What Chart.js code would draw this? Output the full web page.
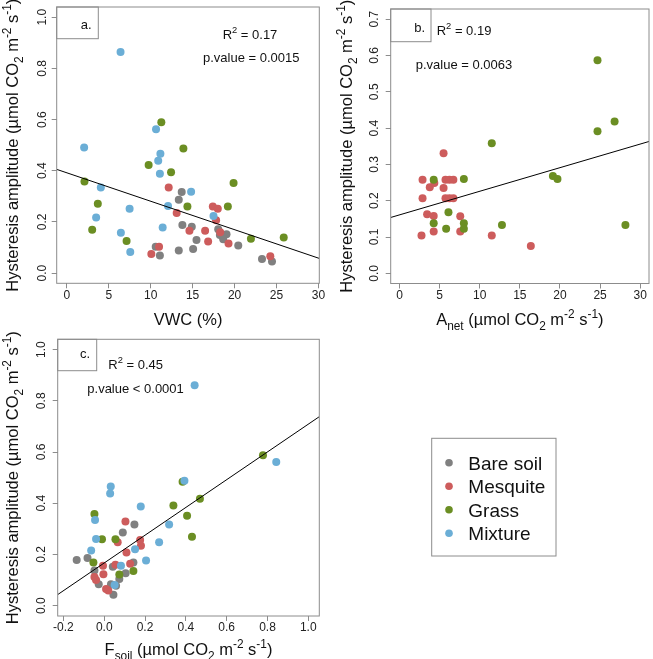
<!DOCTYPE html>
<html><head><meta charset="utf-8">
<script src="https://cdn.jsdelivr.net/npm/chart.js@4"></script>
<style>
html,body{margin:0;padding:0;background:#fff;}
body{width:653px;height:659px;position:relative;overflow:hidden;}
canvas{position:absolute;}
#ca{left:0;top:0;}
#cb{left:326px;top:0;}
#cc{left:0;top:330px;}
</style></head><body>
<canvas id="ca" width="330" height="330"></canvas>
<canvas id="cb" width="327" height="330"></canvas>
<canvas id="cc" width="653" height="329"></canvas>
<script>
// ---------- data ----------
const groups = ['Bare soil','Mesquite','Grass','Mixture'];
const groupColors = ['#808080','#cd5c5c','#6b8e23','#6baed6'];

// Panel a: VWC (%) vs hysteresis amplitude
const vwcBare  = [13.7,13.35,13.78,14.9,15.46,15.06,13.35,10.6,11.1,18.05,18.25,18.65,19.04,20.44,23.27,24.46];
const ampBareA = [0.317,0.287,0.188,0.181,0.129,0.094,0.088,0.103,0.069,0.171,0.149,0.132,0.152,0.108,0.055,0.045];
const vwcMesq  = [12.15,13.1,14.62,17.41,18.0,17.8,16.49,16.85,18.29,19.28,11.0,10.08,24.26];
const ampMesqA = [0.334,0.235,0.165,0.260,0.251,0.206,0.165,0.123,0.160,0.116,0.103,0.075,0.066];
const vwcGrass = [11.27,13.9,9.76,12.43,2.11,3.7,3.03,7.13,14.38,19.88,19.2,21.95,25.86];
const ampGrassA= [0.590,0.487,0.422,0.394,0.358,0.271,0.169,0.125,0.260,0.352,0.260,0.134,0.139];
const vwcMix   = [6.41,2.07,10.64,10.9,11.16,11.1,4.06,3.5,7.49,6.45,7.57,11.43,12.07,14.82,17.49];
const ampMixA  = [0.864,0.491,0.562,0.439,0.466,0.388,0.334,0.217,0.251,0.158,0.082,0.178,0.262,0.318,0.223];

// Panel b: Anet vs hysteresis amplitude
const anetMesq = [5.49,2.87,2.87,2.74,3.77,4.34,5.49,5.73,6.22,6.71,5.73,6.22,6.71,3.44,4.26,4.26,7.57,7.57,11.5,16.37];
const ampMesqB = [0.331,0.258,0.207,0.104,0.237,0.249,0.235,0.258,0.258,0.258,0.207,0.207,0.207,0.163,0.158,0.115,0.157,0.115,0.104,0.075];
const anetGrass= [24.68,26.81,24.68,11.5,19.12,19.69,28.16,12.77,4.26,8.02,6.1,4.26,5.81,8.02,8.02];
const ampGrassB= [0.587,0.418,0.391,0.358,0.268,0.260,0.133,0.133,0.258,0.260,0.168,0.138,0.123,0.138,0.123];

// Panel c: Fsoil vs hysteresis amplitude
const fsoilBare  = [-0.135,-0.082,-0.048,-0.027,0.042,0.091,0.148,0.143,0.105,0.074,0.033,0.045,0.058];
const ampBareC   = [0.179,0.186,0.138,0.084,0.152,0.286,0.317,0.169,0.127,0.104,0.084,0.043,0.078];
const fsoilMesq  = [0.104,0.176,0.180,0.066,0.109,0.055,-0.006,0.127,-0.004,-0.048,-0.040,0.009,0.020];
const ampMesqC   = [0.329,0.257,0.234,0.248,0.208,0.160,0.156,0.164,0.123,0.112,0.101,0.065,0.060];
const fsoilGrass = [0.778,0.469,0.339,0.384,0.406,0.430,-0.048,-0.011,0.055,-0.053,0.074,0.143];
const ampGrassC  = [0.587,0.418,0.391,0.484,0.351,0.269,0.358,0.260,0.260,0.169,0.122,0.136];
const fsoilMix   = [0.443,0.843,0.393,0.032,0.029,0.179,-0.045,0.318,-0.040,0.269,-0.064,0.151,0.205,0.082,0.051];
const ampMixC    = [0.861,0.561,0.488,0.465,0.438,0.387,0.335,0.317,0.261,0.248,0.216,0.221,0.177,0.156,0.081];

// Regression fits [intercept, slope]
const fitA = [0.392, -0.01112];
const fitB = [0.161, 0.0065];
const fitC = [0.167, 0.5417];

// Tick labels
const xTicksA = [0,5,10,15,20,25,30];
const yTicksA = [0.0,0.2,0.4,0.6,0.8,1.0];
const xTicksB = [0,5,10,15,20,25,30];
const yTicksB = [0.0,0.1,0.2,0.3,0.4,0.5,0.6,0.7];
const xTicksC = [-0.2,0.0,0.2,0.4,0.6,0.8,1.0];
const yTicksC = [0.0,0.2,0.4,0.6,0.8,1.0];

// Texts
const yTitle = [['Hysteresis amplitude (\u00B5mol CO',0],['2',1],[' m',0],['-2',2],[' s',0],['-1',2],[')',0]];
const xTitleA = [['VWC (%)',0]];
const xTitleB = [['A',0],['net',1],[' (\u00B5mol CO',0],['2',1],[' m',0],['-2',2],[' s',0],['-1',2],[')',0]];
const xTitleC = [['F',0],['soil',1],[' (\u00B5mol CO',0],['2',1],[' m',0],['-2',2],[' s',0],['-1',2],[')',0]];
const statsA = ['0.17','p.value = 0.0015'];
const statsB = ['0.19','p.value = 0.0063'];
const statsC = ['0.45','p.value < 0.0001'];

// ---------- drawing helpers ----------
const FAM = '"Liberation Sans", Arial, Helvetica, sans-serif';
function drawRich(ctx, segs, x, y, size, align, rotate){
  ctx.save();
  ctx.translate(x,y);
  if (rotate) ctx.rotate(-Math.PI/2);
  const ws = [];
  let w = 0;
  for (const [t,m] of segs){
    ctx.font = (m ? size*0.72 : size) + 'px ' + FAM;
    const ww = ctx.measureText(t).width; ws.push(ww); w += ww;
  }
  let cx = align === 'center' ? -w/2 : (align === 'right' ? -w : 0);
  ctx.textAlign = 'left'; ctx.textBaseline = 'alphabetic'; ctx.fillStyle = '#111';
  segs.forEach(([t,m],i)=>{
    ctx.font = (m ? size*0.72 : size) + 'px ' + FAM;
    const dy = m === 1 ? size*0.28 : (m === 2 ? -size*0.45 : 0);
    ctx.fillText(t, cx, dy);
    cx += ws[i];
  });
  ctx.restore();
}

const decoPlugin = {
  id: 'panelDeco',
  afterDraw(chart, args, o){
    const ctx = chart.ctx, ca = chart.chartArea;
    ctx.save();
    ctx.strokeStyle = '#8c8c8c'; ctx.lineWidth = 1;
    ctx.strokeRect(ca.left, ca.top, ca.right-ca.left, ca.bottom-ca.top);
    // panel label box
    ctx.strokeRect(ca.left, ca.top, o.box[0], o.box[1]);
    ctx.restore();
    drawRich(ctx, [[o.label,0]], ca.left + o.labelPos[0], ca.top + o.labelPos[1], 13, 'right', false);
    // stats
    drawRich(ctx, [['R',0],['2',2],[' = ' + o.stats[0],0]], ca.left + o.r2Pos[0], ca.top + o.r2Pos[1], 13, o.statAlign, false);
    drawRich(ctx, [[o.stats[1],0]], ca.left + o.pPos[0], ca.top + o.pPos[1], 13, o.statAlign, false);
    // axis titles
    drawRich(ctx, o.yTitle, ca.left - o.yTitleOff, (ca.top+ca.bottom)/2, 16.5, 'center', true);
    drawRich(ctx, o.xTitle, (ca.left+ca.right)/2, ca.bottom + o.xTitleOff, 16.5, 'center', false);
    // legend
    if (o.legend){
      const L = o.legend;
      ctx.save();
      ctx.strokeStyle = '#8c8c8c'; ctx.lineWidth = 1;
      ctx.strokeRect(L.x, L.y, L.w, L.h);
      const sets = chart.data.datasets.filter(d => groups.includes(d.label));
      sets.sort((a,b)=>groups.indexOf(a.label)-groups.indexOf(b.label));
      sets.forEach((d,i)=>{
        const cy = L.y + L.first + i*L.step;
        ctx.fillStyle = d.backgroundColor;
        ctx.beginPath(); ctx.arc(L.x + L.dotX, cy, 3.8, 0, Math.PI*2); ctx.fill();
        ctx.fillStyle = '#111';
        ctx.font = '19px ' + FAM; ctx.textAlign = 'left'; ctx.textBaseline = 'alphabetic';
        ctx.fillText(d.label, L.x + L.textX, cy + 6.8);
      });
      ctx.restore();
    }
  }
};

function pts(xs, ys){ return xs.map((x,i)=>({x:x, y:ys[i]})); }

function makeChart(id, series, fit, cfg){
  const datasets = series.map(([gi, xs, ys]) => ({
    label: groups[gi], data: pts(xs, ys),
    backgroundColor: groupColors[gi], borderWidth: 0,
    pointRadius: 4, pointHoverRadius: 4, order: 4 - gi
  }));
  datasets.push({
    label: 'fit', showLine: true, pointRadius: 0, borderColor: '#000', borderWidth: 1,
    data: [{x: cfg.xmin, y: fit[0] + fit[1]*cfg.xmin}, {x: cfg.xmax, y: fit[0] + fit[1]*cfg.xmax}],
    order: 0, clip: 0
  });
  const tickFont = {family: FAM, size: 12, lineHeight: 1};
  return new Chart(document.getElementById(id), {
    type: 'scatter',
    data: {datasets},
    options: {
      responsive: false, animation: false, events: [],
      layout: {padding: cfg.pad},
      plugins: {legend: {display: false}, tooltip: {enabled: false}, panelDeco: cfg.deco},
      scales: {
        x: {
          type: 'linear', min: cfg.xmin, max: cfg.xmax,
          afterBuildTicks: s => { s.ticks = cfg.xticks.map(v => ({value: v})); },
          afterFit: s => { s.height = cfg.xh; },
          grid: {display: true, drawOnChartArea: false, drawTicks: true, tickLength: 5, color: '#8c8c8c'},
          border: {display: false},
          ticks: {autoSkip: false, minRotation: 0, maxRotation: 0, padding: 1, color: '#222', font: tickFont,
                  callback: v => cfg.xfmt(v)}
        },
        y: {
          type: 'linear', min: cfg.ymin, max: cfg.ymax,
          afterBuildTicks: s => { s.ticks = cfg.yticks.map(v => ({value: v})); },
          afterFit: s => { s.width = cfg.yw; },
          grid: {display: true, drawOnChartArea: false, drawTicks: true, tickLength: 5, color: '#8c8c8c'},
          border: {display: false},
          ticks: {autoSkip: false, minRotation: 90, maxRotation: 90, crossAlign: 'center', padding: cfg.ypad,
                  color: '#222', font: tickFont, callback: v => v.toFixed(1)}
        }
      }
    },
    plugins: [decoPlugin]
  });
}

makeChart('ca', [[0, vwcBare, ampBareA],[1, vwcMesq, ampMesqA],[2, vwcGrass, ampGrassA],[3, vwcMix, ampMixA]], fitA, {
  xmin: -1.2, xmax: 30.1, ymin: -0.04, ymax: 1.04, xticks: xTicksA, yticks: yTicksA,
  xfmt: v => String(v), pad: {left: 0, top: 5, right: 10.7, bottom: 0}, yw: 56.7, xh: 46.7, ypad: 1,
  deco: {label: 'a.', box: [41.6, 31.7], labelPos: [35, 21.7], stats: statsA, statAlign: 'center',
         r2Pos: [193.3, 31.7], pPos: [194.5, 55], yTitle: yTitle, yTitleOff: 38.5, xTitle: xTitleA, xTitleOff: 41.5}
});
makeChart('cb', [[1, anetMesq, ampMesqB],[2, anetGrass, ampGrassB]], fitB, {
  xmin: -1.1, xmax: 31.1, ymin: -0.028, ymax: 0.728, xticks: xTicksB, yticks: yTicksB,
  xfmt: v => String(v), pad: {left: 0, top: 5, right: 0.5, bottom: 0}, yw: 64.7, xh: 46.5, ypad: 3,
  deco: {label: 'b.', box: [40.3, 32.7], labelPos: [34.3, 23.3], stats: statsB, statAlign: 'left',
         r2Pos: [46, 25.7], pPos: [25, 60], yTitle: yTitle, yTitleOff: 38.5, xTitle: xTitleB, xTitleOff: 41.5}
});
makeChart('cc', [[0, fsoilBare, ampBareC],[1, fsoilMesq, ampMesqC],[2, fsoilGrass, ampGrassC],[3, fsoilMix, ampMixC]], fitC, {
  xmin: -0.228, xmax: 1.054, ymin: -0.04, ymax: 1.04, xticks: xTicksC, yticks: yTicksC,
  xfmt: v => v.toFixed(1), pad: {left: 0, top: 9.3, right: 333.7, bottom: 0}, yw: 57.7, xh: 43, ypad: 3,
  deco: {label: 'c.', box: [39, 31.4], labelPos: [32.3, 19], stats: statsC, statAlign: 'left',
         r2Pos: [50.6, 29.7], pPos: [29.6, 53.4], yTitle: yTitle, yTitleOff: 39.5, xTitle: xTitleC, xTitleOff: 39,
         legend: {x: 431.7, y: 108.3, w: 124.3, h: 117.7, first: 24.4, step: 23.5, dotX: 17.3, textX: 36.6}}
});
</script>
</body></html>
